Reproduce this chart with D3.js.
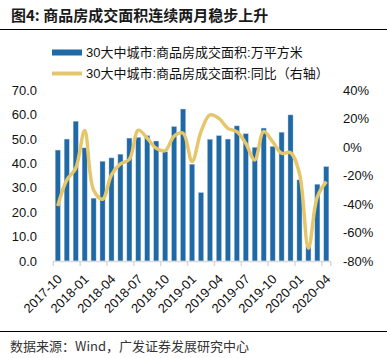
<!DOCTYPE html>
<html><head><meta charset="utf-8">
<script src="https://cdn.jsdelivr.net/npm/d3@7"></script>
<style>
html,body{margin:0;padding:0;background:#fff;}
svg{display:block;font-family:"Liberation Sans",Arial,"Noto Sans CJK SC",sans-serif;}
</style></head>
<body><svg id="c" width="387" height="358"></svg>
<script>
const months = ["2017-10","2017-11","2017-12","2018-01","2018-02","2018-03","2018-04","2018-05","2018-06","2018-07","2018-08","2018-09","2018-10","2018-11","2018-12","2019-01","2019-02","2019-03","2019-04","2019-05","2019-06","2019-07","2019-08","2019-09","2019-10","2019-11","2019-12","2020-01","2020-02","2020-03","2020-04"];
const area = [45.4,49.9,57.2,46.3,25.7,40.8,42.2,43.7,50.3,50.6,51.3,49.1,44.7,55.0,62.2,39.6,28.0,49.8,51.3,49.9,55.3,52.1,46.5,54.4,46.9,52.7,59.8,33.2,6.0,31.4,38.6];
const yoy = [-41.4,-23.2,-15.0,11.5,-30.2,-36.7,-19.6,-11.9,-8.6,11.8,6.1,-0.9,-2.6,7.7,9.6,-10.3,10.8,22.5,20.1,13.1,10.8,2.6,-9.1,10.8,3.7,-4.4,-4.0,-18.5,-71.0,-34.9,-24.3];
const leftTicks = [0,10,20,30,40,50,60,70];
const rightTicks = [-80,-60,-40,-20,0,20,40];
const tickMonths = ["2017-10","2018-01","2018-04","2018-07","2018-10","2019-01","2019-04","2019-07","2019-10","2020-01","2020-04"];
const seriesNames = ["30大中城市:商品房成交面积:万平方米","30大中城市:商品房成交面积:同比（右轴）"];
const title = "图4:  商品房成交面积连续两月稳步上升";
const source = "数据来源：Wind，广发证券发展研究中心";

const svg = d3.select("#c");
const L = 53.3, R = 330.8, T = 90, B = 261;
const x = d3.scaleBand().domain(months).range([L, R]).padding(0);
const yL = d3.scaleLinear().domain([0,70]).range([B,T]);
const yR = d3.scaleLinear().domain([-80,40]).range([B,T]);
const blue = "#1f69a6", gold = "#e6c66a";

// title
svg.append("text").attr("x",11).attr("y",20.5).attr("font-size",15).attr("font-weight","bold")
  .attr("fill","#1a1a1a").attr("font-family","'Noto Sans CJK SC',sans-serif").text(title);
svg.append("line").attr("x1",0).attr("x2",387).attr("y1",29.5).attr("y2",29.5).attr("stroke","#000").attr("stroke-width",1);
svg.append("line").attr("x1",0).attr("x2",387).attr("y1",331.5).attr("y2",331.5).attr("stroke","#000").attr("stroke-width",1);
svg.append("text").attr("x",10).attr("y",351).attr("font-size",13).attr("fill","#333")
  .attr("font-family","'Noto Sans CJK SC',sans-serif").text(source);

// legend
const lg = svg.append("g").attr("font-size",13).attr("fill","#111");
lg.append("rect").attr("x",52).attr("y",49.5).attr("width",30).attr("height",6).attr("fill",blue);
lg.append("text").attr("x",86).attr("y",57).text(seriesNames[0]);
lg.append("line").attr("x1",52).attr("x2",82).attr("y1",73.5).attr("y2",73.5).attr("stroke",gold).attr("stroke-width",4);
lg.append("text").attr("x",86).attr("y",78).text(seriesNames[1]);

// bars
const bw = 5;
svg.append("g").selectAll("rect").data(area).join("rect")
  .attr("x",(d,i)=>x(months[i])+x.bandwidth()/2-bw/2)
  .attr("y",d=>yL(d)).attr("width",bw).attr("height",d=>B-yL(d))
  .attr("fill",blue).attr("stroke","#a9c3dc").attr("stroke-width",0.4);

// x axis
const ax = svg.append("g");
ax.append("line").attr("x1",L).attr("x2",R).attr("y1",B+0.5).attr("y2",B+0.5).attr("stroke","#d9d9d9").attr("stroke-width",1.5);
ax.selectAll("line.t").data(tickMonths).join("line").attr("class","t")
  .attr("x1",d=>x(d)).attr("x2",d=>x(d)).attr("y1",B).attr("y2",B+5).attr("stroke","#d9d9d9").attr("stroke-width",1.5);
ax.append("line").attr("x1",R).attr("x2",R).attr("y1",B).attr("y2",B+5).attr("stroke","#d9d9d9").attr("stroke-width",1.5);
ax.selectAll("text").data(tickMonths).join("text")
  .attr("transform",d=>`translate(${x(d)+x.bandwidth()/2+5},${B+19}) rotate(-45)`)
  .attr("text-anchor","end").attr("font-size",13).attr("fill","#111").text(d=>d);

// left axis labels
svg.append("g").selectAll("text").data(leftTicks).join("text")
  .attr("x",37).attr("y",d=>yL(d)).attr("dy","0.36em").attr("text-anchor","end")
  .attr("font-size",13).attr("fill","#111").text(d=>d.toFixed(1));
// right axis labels
svg.append("g").selectAll("text").data(rightTicks).join("text")
  .attr("x",343).attr("y",d=>yR(d)).attr("dy","0.36em").attr("text-anchor","start")
  .attr("font-size",13).attr("fill","#111").text(d=>d+"%");

// line
const line = d3.line().x((d,i)=>x(months[i])+x.bandwidth()/2).y(d=>yR(d)).curve(d3.curveCatmullRom.alpha(0.5));
svg.append("path").attr("d",line(yoy)).attr("fill","none").attr("stroke",gold).attr("stroke-width",3.5).attr("stroke-linejoin","round");
</script></body></html>
